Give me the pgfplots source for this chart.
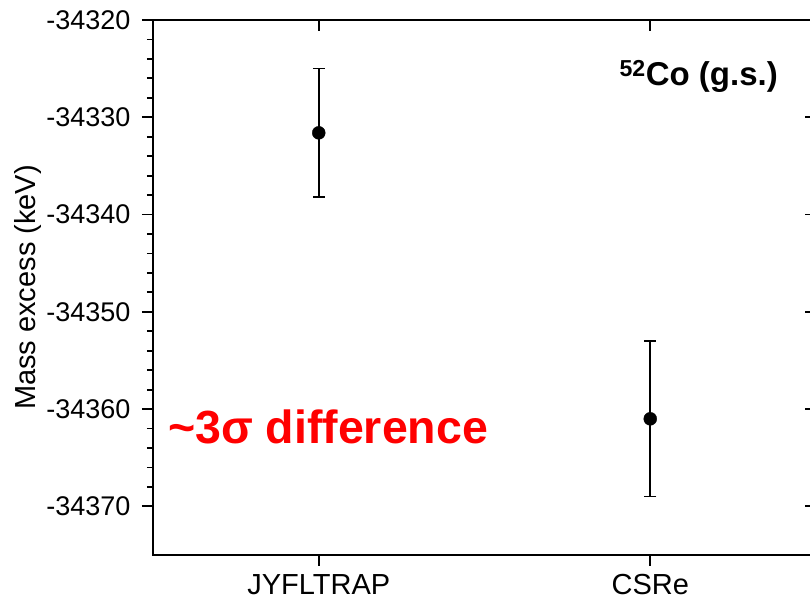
\documentclass[border=0pt]{standalone}
\usepackage{fontspec}
\setmainfont{Liberation Sans}
\usepackage{pgfplots}
\usepackage{pgfplotstable}
\pgfplotsset{compat=1.18}

% Mass excess of 52Co ground state (keV) with 1-sigma uncertainties
\pgfplotstableread{
x   y          err
1   -34331.6   6.6
2   -34361.0   8.0
}\coData

\begin{document}
\begin{tikzpicture}
\pgfplotsset{
  frame/.style={
    width=663pt, height=535pt, scale only axis,
    xmin=0.5, xmax=2.5, ymin=-34375, ymax=-34320,
    scaled x ticks=false, scaled y ticks=false,
    axis line style={line width=1.8pt, black},
    xtick={1,2},
    ytick={-34370,-34360,-34350,-34340,-34330,-34320},
    minor y tick num=4,
    major tick length=11pt, minor tick length=6pt,
    every tick/.style={line width=1.8pt, black},
    every minor tick/.style={line width=1.8pt, black},
    clip=false,
  }
}
\begin{axis}[frame, name=main,
    xtick pos=left, ytick pos=left, tick align=outside,
    xticklabels={JYFLTRAP,CSRe},
    yticklabels={-34370,-34360,-34350,-34340,-34330,-34320},
    xticklabel style={font=\fontsize{29}{29}\selectfont, anchor=north, yshift=-5pt},
    yticklabel style={font=\fontsize{27}{27}\selectfont, anchor=east, xshift=-8pt},
    ylabel={Mass excess (keV)},
    ylabel style={font=\fontsize{29}{29}\selectfont, at={(rel axis cs:0,0.5)}, anchor=center, yshift=125pt},
  ]
  \addplot[black, only marks, mark=*, mark size=6.5pt,
    error bars/.cd, y dir=both, y explicit,
    error bar style={line width=1.6pt, black},
    error mark options={rotate=90, mark size=6pt, line width=1.6pt, black}]
    table[x=x, y=y, y error=err] {\coData};
  \node[anchor=base west, inner sep=0pt, text=red,
        font=\fontsize{46.5}{46.5}\selectfont\bfseries]
        at (axis cs:0.545,-34363.5) {\textasciitilde3σ difference};
  \node[anchor=base west, inner sep=0pt,
        font=\fontsize{33}{33}\selectfont\bfseries]
        at (axis cs:1.907,-34326.7) {\textsuperscript{52}Co (g.s.)};
\end{axis}
\begin{axis}[frame,
    xtick pos=right, ytick pos=right, tick align=inside,
    xticklabels={}, yticklabels={},
  ]
\end{axis}
\pgfresetboundingbox
\useasboundingbox ([xshift=-153pt,yshift=20pt]main.north west)
  rectangle ([xshift=657pt,yshift=-580pt]main.north west);
\end{tikzpicture}
\end{document}
